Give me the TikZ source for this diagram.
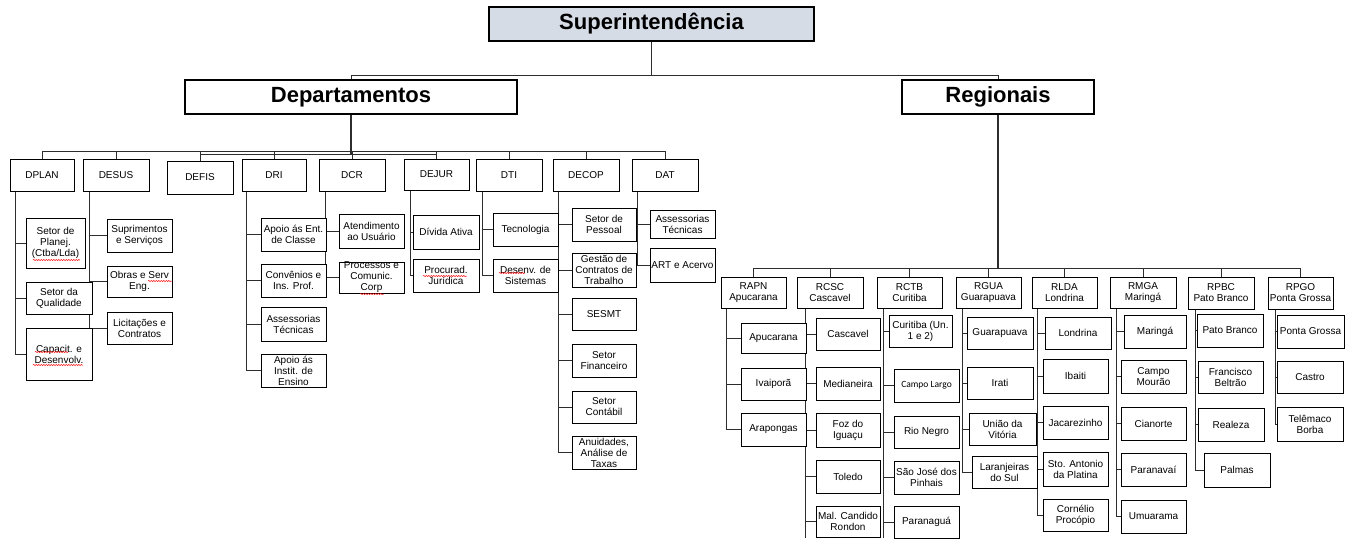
\documentclass[tikz,border=0pt]{standalone}
\usepackage{fontspec}
\setmainfont{Liberation Sans}
\newfontfamily\calib{Carlito}
\usetikzlibrary{backgrounds,decorations.pathmorphing}
\definecolor{supfill}{RGB}{214,220,229}
\definecolor{lnc}{RGB}{45,45,45}
\tikzset{
 box/.style={draw=black, line width=0.9pt, fill=white, inner sep=0pt, align=center, font=\fontsize{10}{11}\selectfont},
 bigbox/.style={box, line width=1.8pt, font=\fontsize{22}{24}\selectfont\bfseries},
 conn/.style={draw=lnc, line width=0.9pt},
 squig/.style={draw=red, line width=0.5pt, decorate, decoration={snake, amplitude=0.6pt, segment length=2.5pt}},
}
\newcommand\ob[7][]{\node[box,#1,minimum width={(#5-#3)*1pt},minimum height={(#6-#4)*1pt}] (#2) at ({(#3+#5)/2},{(#4+#6)/2}) {#7};}
\begin{document}
\begin{tikzpicture}[x=1pt,y=-1pt]
\useasboundingbox (0,0) rectangle (1356,538);
% top level
\ob[bigbox, fill=supfill]{sup}{489}{7}{814}{41}{Superintendência}
\ob[bigbox]{dep}{185}{80}{517}{114}{Departamentos}
\ob[bigbox]{reg}{902}{80}{1094}{114}{Regionais}
% departments
\ob{dplan}{10}{159}{74}{191}{DPLAN}
\ob{desus}{83}{159}{149}{191}{DESUS}
\ob{defis}{167}{161}{233}{194}{DEFIS}
\ob{dri}{242}{159}{306}{191}{DRI}
\ob{dcr}{319}{159}{385}{191}{DCR}
\ob{dejur}{404}{159}{469}{190}{DEJUR}
\ob{dti}{476}{159}{542}{191}{DTI}
\ob{decop}{553}{159}{619}{191}{DECOP}
\ob{dat}{632}{159}{698}{191}{DAT}
% DPLAN
\ob{pl1}{26}{218}{85}{268}{Setor de\\Planej.\\(Ctba/Lda)}
\ob{pl2}{26}{282}{92}{314}{Setor da\\Qualidade}
\ob{pl3}{26}{328}{92}{380}{Capacit. e\\Desenvolv.}
% DESUS
\ob{es1}{107}{219}{172}{252}{Suprimentos\\e Serviços}
\ob{es2}{107}{266}{172}{297}{Obras e Serv\\Eng.}
\ob{es3}{107}{312}{172}{344}{Licitações e\\Contratos}
% DRI
\ob{ri1}{261}{218}{326}{251}{Apoio ás Ent.\\de Classe}
\ob{ri2}{261}{264}{326}{297}{Convênios e\\Ins. Prof.}
\ob{ri3}{261}{307}{326}{341}{Assessorias\\Técnicas}
\ob{ri4}{261}{354}{326}{387}{Apoio ás\\Instit. de\\Ensino}
% DCR
\ob{cr1}{339}{214}{404}{248}{Atendimento\\ao Usuário}
\ob{cr2}{339}{262}{404}{293}{Processos e\\Comunic.\\Corp}
% DEJUR
\ob{ju1}{413}{215}{479}{249}{Dívida Ativa}
\ob{ju2}{413}{259}{479}{292}{Procurad.\\Jurídica}
% DTI
\ob{ti1}{493}{213}{558}{246}{Tecnologia}
\ob{ti2}{493}{259}{558}{292}{Desenv. de\\Sistemas}
% DECOP
\ob{co1}{572}{208}{636}{241}{Setor de\\Pessoal}
\ob{co2}{572}{253}{636}{287}{Gestão de\\Contratos de\\Trabalho}
\ob{co3}{572}{298}{636}{330}{SESMT}
\ob{co4}{572}{344}{636}{377}{Setor\\Financeiro}
\ob{co5}{572}{391}{636}{423}{Setor\\Contábil}
\ob{co6}{572}{436}{636}{469}{Anuidades,\\Análise de\\Taxas}
% DAT
\ob{at1}{650}{210}{715}{238}{Assessorias\\Técnicas}
\ob{at2}{650}{248}{715}{282}{ART e Acervo}
% regionals
\ob{rapn}{721}{277}{786}{308}{RAPN\\Apucarana}
\ob{rcsc}{797}{277}{863}{308}{RCSC\\Cascavel}
\ob{rctb}{877}{277}{942}{308}{RCTB\\Curitiba}
\ob{rgua}{956}{277}{1021}{308}{RGUA\\Guarapuava}
\ob{rlda}{1032}{277}{1097}{308}{RLDA\\Londrina}
\ob{rmga}{1110}{277}{1176}{308}{RMGA\\Maringá}
\ob{rpbc}{1188}{277}{1254}{309}{RPBC\\Pato Branco}
\ob{rpgo}{1268}{277}{1333}{309}{RPGO\\Ponta Grossa}
% RAPN
\ob{ap1}{741}{323}{806}{353}{Apucarana}
\ob{ap2}{741}{368}{806}{400}{Ivaiporã}
\ob{ap3}{741}{413}{806}{446}{Arapongas}
% RCSC
\ob{cs1}{816}{318}{880}{350}{Cascavel}
\ob{cs2}{816}{367}{880}{400}{Medianeira}
\ob{cs3}{816}{413}{880}{447}{Foz do\\Iguaçu}
\ob{cs4}{816}{460}{880}{493}{Toledo}
\ob{cs5}{816}{506}{880}{537}{Mal. Candido\\Rondon}
% RCTB
\ob{ct1}{889}{315}{952}{347}{Curitiba (Un.\\1 e 2)}
\ob[font=\calib\fontsize{9.5}{11}\selectfont]{ct2}{894}{369}{959}{402}{Campo Largo}
\ob{ct3}{894}{416}{959}{448}{Rio Negro}
\ob{ct4}{894}{461}{959}{494}{São José dos\\Pinhais}
\ob{ct5}{894}{506}{959}{538}{Paranaguá}
% RGUA
\ob{gu1}{967}{317}{1033}{349}{Guarapuava}
\ob{gu2}{967}{367}{1033}{399}{Irati}
\ob{gu3}{969}{413}{1036}{445}{União da\\Vitória}
\ob{gu4}{972}{456}{1037}{488}{Laranjeiras\\do Sul}
% RLDA
\ob{ld1}{1045}{317}{1111}{349}{Londrina}
\ob{ld2}{1043}{359}{1108}{393}{Ibaiti}
\ob{ld3}{1043}{406}{1108}{439}{Jacarezinho}
\ob{ld4}{1043}{452}{1108}{486}{Sto. Antonio\\da Platina}
\ob{ld5}{1043}{499}{1108}{531}{Cornélio\\Procópio}
% RMGA
\ob{mg1}{1124}{315}{1186}{348}{Maringá}
\ob{mg2}{1121}{360}{1186}{393}{Campo\\Mourão}
\ob{mg3}{1121}{407}{1186}{440}{Cianorte}
\ob{mg4}{1121}{453}{1186}{486}{Paranavaí}
\ob{mg5}{1121}{500}{1186}{533}{Umuarama}
% RPBC
\ob{pb1}{1197}{314}{1263}{347}{Pato Branco}
\ob{pb2}{1198}{361}{1263}{393}{Francisco\\Beltrão}
\ob{pb3}{1198}{408}{1264}{441}{Realeza}
\ob{pb4}{1204}{453}{1270}{487}{Palmas}
% RPGO
\ob{pg1}{1277}{315}{1344}{348}{Ponta Grossa}
\ob{pg2}{1277}{361}{1343}{393}{Castro}
\ob{pg3}{1277}{407}{1343}{441}{Telêmaco\\Borba}
% spell-check marks
\draw[squig] (33,260) -- (80,260);
\draw[squig] (148,281) -- (172,281);
\draw[squig] (35,352) -- (68,352);
\draw[squig] (33,365) -- (83,365);
\draw[squig] (360,294) -- (384,294);
\draw[squig] (423,276) -- (467,276);
\draw[squig] (499,273) -- (525,273);
% connectors
\begin{pgfonlayer}{background}
\coordinate (tbar) at (652,75);
\coordinate (dbar) at (0,151);
\coordinate (dbarb) at (0,154);
\coordinate (rbar) at (998,268);
\coordinate (bot) at (0,538);
\draw[conn] (sup.south) -- (sup.south |- tbar);
\draw[conn] (dep.north |- tbar) -- (reg.north |- tbar);
\draw[conn] (dep.north |- tbar) -- (dep.north);
\draw[conn] (reg.north |- tbar) -- (reg.north);
\draw[conn, line width=1.6pt] (dep.south) -- (dep.south |- dbarb);
\draw[conn] (dplan.north |- dbar) -- (dat.north |- dbar);
\draw[conn] (defis.north |- dbarb) -- (dejur.north |- dbarb);
\foreach \n in {dplan,desus,defis,dri,dcr,dejur,dti,decop,dat}
  \draw[conn] (\n.north |- dbar) -- (\n.north);
\draw[conn, line width=1.2pt] (reg.south) -- (reg.south |- rbar);
\draw[conn] (rapn.north |- rbar) -- (rpgo.north |- rbar);
\foreach \n in {rapn,rcsc,rctb,rgua,rlda,rmga,rpbc,rpgo}
  \draw[conn] (\n.north |- rbar) -- (\n.north);
% department children
\foreach \c in {pl1,pl2,pl3} \draw[conn] ([xshift=6pt]dplan.south west) |- (\c.west);
\foreach \c in {es1,es2,es3} \draw[conn] ([xshift=7pt]desus.south west) |- (\c.west);
\foreach \c in {ri1,ri2,ri3,ri4} \draw[conn] ([xshift=5pt]dri.south west) |- (\c.west);
\foreach \c in {cr1,cr2} \draw[conn] ([xshift=7pt]dcr.south west) |- (\c.west);
\foreach \c in {ju1,ju2} \draw[conn] ([xshift=7pt]dejur.south west) |- (\c.west);
\foreach \c in {ti1,ti2} \draw[conn] ([xshift=7pt]dti.south west) |- (\c.west);
\foreach \c in {co1,co2,co3,co4,co5,co6} \draw[conn] ([xshift=6pt]decop.south west) |- (\c.west);
\foreach \c in {at1,at2} \draw[conn] ([xshift=6pt]dat.south west) |- (\c.west);
% regional children
\foreach \c in {ap1,ap2,ap3} \draw[conn] ([xshift=6pt]rapn.south west) |- (\c.west);
\foreach \c in {cs1,cs2,cs3,cs4,cs5} \draw[conn] ([xshift=9pt]rcsc.south west) |- (\c.west);
\draw[conn] ([xshift=9pt]rcsc.south west) -- ([xshift=9pt]rcsc.south west |- bot);
\foreach \c in {ct1,ct2,ct3,ct4,ct5} \draw[conn] ([xshift=7pt]rctb.south west) |- (\c.west);
\draw[conn] ([xshift=7pt]rctb.south west) -- ([xshift=7pt]rctb.south west |- bot);
\foreach \c in {gu1,gu2,gu3,gu4} \draw[conn] ([xshift=7pt]rgua.south west) |- (\c.west);
\foreach \c in {ld1,ld2,ld3,ld4,ld5} \draw[conn] ([xshift=6pt]rlda.south west) |- (\c.west);
\foreach \c in {mg1,mg2,mg3,mg4,mg5} \draw[conn] ([xshift=7pt]rmga.south west) |- (\c.west);
\foreach \c in {pb1,pb2,pb3,pb4} \draw[conn] ([xshift=8pt]rpbc.south west) |- (\c.west);
\foreach \c in {pg1,pg2,pg3} \draw[conn] ([xshift=8pt]rpgo.south west) |- (\c.west);
\end{pgfonlayer}
\end{tikzpicture}
\end{document}
